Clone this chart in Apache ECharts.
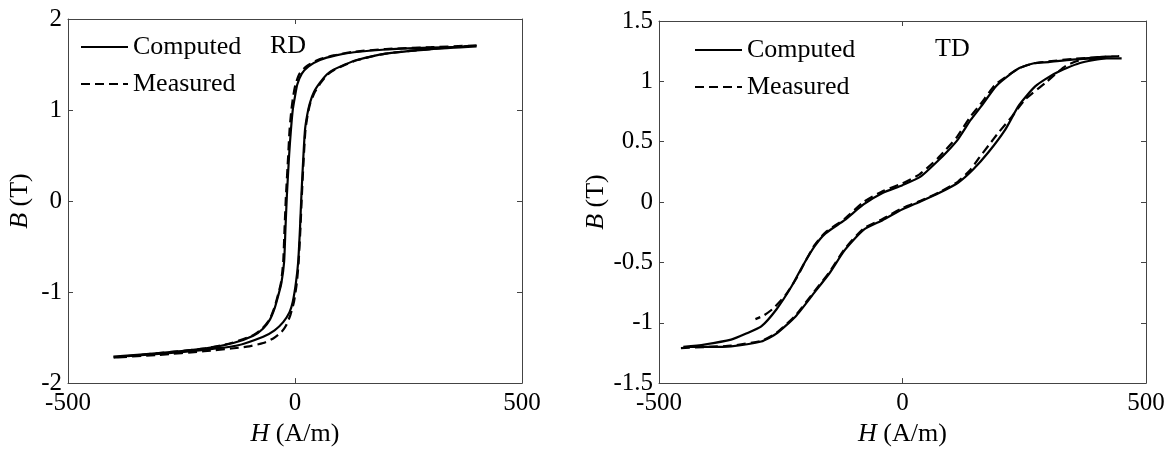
<!DOCTYPE html>
<html>
<head>
<meta charset="utf-8">
<script src="https://cdn.jsdelivr.net/npm/echarts@6/dist/echarts.min.js"></script>
<style>
  html, body { margin: 0; padding: 0; background: #fff; }
  #main { width: 1173px; height: 452px; }
</style>
</head>
<body>
<div id="main"></div>
<script>
// RD loop, H (A/m) and B (T)
var rdComputedH = [400, 300, 200, 130, 90, 55, 30, 15, 5, 0, -5, -9, -13, -18, -21, -24, -30, -37, -45, -55, -70, -92, -136, -200, -300, -400,
  -300, -200, -130, -70, -45, -26, -12, -5, 2, 7, 11, 14, 18, 22, 27, 33, 42, 55, 70, 84, 110, 136, 200, 300, 400];
var rdComputedB = [1.70, 1.685, 1.665, 1.635, 1.60, 1.55, 1.48, 1.40, 1.28, 1.15, 1.0, 0.78, 0.5, 0.05, -0.3, -0.67, -0.9, -1.04, -1.18, -1.3, -1.40, -1.48, -1.56, -1.62, -1.67, -1.71,
  -1.68, -1.635, -1.59, -1.49, -1.42, -1.33, -1.22, -1.11, -0.9, -0.67, -0.3, 0.05, 0.45, 0.78, 0.95, 1.08, 1.2, 1.30, 1.39, 1.44, 1.50, 1.55, 1.62, 1.67, 1.70];
var rdMeasuredH = [400, 300, 200, 130, 85, 50, 25, 10, 1, -4, -8, -12, -15, -20, -23, -26, -31, -38, -46, -56, -72, -95, -140, -200, -300, -400,
  -300, -200, -140, -106, -70, -48, -30, -20, -10, -2, 4, 8, 12, 15, 19, 23, 28, 34, 44, 57, 72, 86, 112, 138, 200, 300, 400];
var rdMeasuredB = [1.71, 1.69, 1.67, 1.64, 1.60, 1.55, 1.48, 1.40, 1.28, 1.15, 1.0, 0.78, 0.5, 0.05, -0.3, -0.67, -0.9, -1.04, -1.18, -1.3, -1.40, -1.48, -1.56, -1.62, -1.67, -1.72,
  -1.69, -1.65, -1.62, -1.60, -1.56, -1.51, -1.44, -1.37, -1.25, -1.10, -0.9, -0.67, -0.3, 0.05, 0.45, 0.78, 0.95, 1.08, 1.2, 1.30, 1.39, 1.44, 1.50, 1.55, 1.62, 1.67, 1.71];

// TD loop
var tdComputedH = [450, 400, 348, 300, 270, 240, 215, 192, 161, 140, 114, 90, 75, 37, 0, -41, -80, -119, -158, -181, -205, -228, -259, -290, -321, -352, -407, -450,
  -400, -352, -290, -259, -220, -181, -150, -119, -80, -41, 0, 37, 75, 114, 145, 176, 211, 239, 273, 315, 363, 419, 450];
var tdComputedB = [1.19, 1.19, 1.18, 1.16, 1.15, 1.11, 1.04, 0.96, 0.79, 0.68, 0.52, 0.41, 0.35, 0.21, 0.14, 0.075, -0.02, -0.15, -0.26, -0.37, -0.53, -0.70, -0.89, -1.03, -1.09, -1.14, -1.18, -1.20,
  -1.20, -1.195, -1.155, -1.09, -0.95, -0.75, -0.59, -0.40, -0.23, -0.15, -0.06, 0.005, 0.075, 0.16, 0.27, 0.41, 0.60, 0.80, 0.96, 1.07, 1.15, 1.19, 1.19];
var tdMeasuredH = [-455, -400, -352, -290, -259, -220, -181, -150, -119, -80, -41, 0, 37, 75, 114, 140, 158, 177, 198, 225, 252, 294, 336, 377, 445,
  400, 348, 300, 270, 240, 215, 190, 160, 138, 112, 88, 72, 35, 0, -41, -80, -119, -158, -181, -198, -219, -240, -265, -285, -302];
var tdMeasuredB = [-1.21, -1.20, -1.19, -1.15, -1.085, -0.94, -0.74, -0.58, -0.39, -0.22, -0.14, -0.05, 0.01, 0.08, 0.17, 0.27, 0.37, 0.47, 0.58, 0.71, 0.85, 0.99, 1.13, 1.19, 1.21,
  1.20, 1.185, 1.165, 1.15, 1.11, 1.045, 0.97, 0.81, 0.70, 0.54, 0.43, 0.36, 0.23, 0.155, 0.09, 0.0, -0.14, -0.25, -0.36, -0.48, -0.64, -0.77, -0.88, -0.94, -0.97];

var legendNames = ['Computed', 'Measured'];

var font = 'Liberation Serif';
function zip(h, b) {
  return h.map(function (v, i) { return [v, b[i]]; });
}

var lineColor = '#444';
function axisBase(gridIndex, min, max, interval) {
  return {
    type: 'value', gridIndex: gridIndex, min: min, max: max, interval: interval,
    axisLine: { show: true, onZero: false, lineStyle: { color: lineColor, width: 1 } },
    axisTick: { show: true, inside: true, length: 5, lineStyle: { color: lineColor } },
    splitLine: { show: false },
    axisLabel: { show: true, fontFamily: font, fontSize: 25, color: '#000' }
  };
}
function xAxis(gridIndex, min, max, interval, top) {
  var a = axisBase(gridIndex, min, max, interval);
  a.position = top ? 'top' : 'bottom';
  if (top) {
    a.axisLabel.show = false;
  } else {
    a.axisLabel.margin = 8;
    a.name = '{i|H} (A/m)';
    a.nameLocation = 'middle';
    a.nameGap = 35;
    a.nameTextStyle = { fontFamily: font, fontSize: 26, color: '#000', rich: { i: { fontFamily: font, fontSize: 26, fontStyle: 'italic' } } };
  }
  return a;
}
function yAxis(gridIndex, min, max, interval, right, gap) {
  var a = axisBase(gridIndex, min, max, interval);
  a.position = right ? 'right' : 'left';
  if (right) {
    a.axisLabel.show = false;
  } else {
    a.axisLabel.margin = 6;
    a.name = '{i|B} (T)';
    a.nameLocation = 'middle';
    a.nameGap = gap;
    a.nameTextStyle = { fontFamily: font, fontSize: 26, color: '#000', rich: { i: { fontFamily: font, fontSize: 26, fontStyle: 'italic' } } };
  }
  return a;
}

function curve(name, data, xi, yi, dashed) {
  return {
    name: name, type: 'line', xAxisIndex: xi, yAxisIndex: yi,
    data: data, symbol: 'none', smooth: 0.2, silent: true, animation: false,
    lineStyle: { color: '#000', width: 2.2, type: dashed ? [9, 5] : 'solid' },
    itemStyle: { color: '#000' }
  };
}

function legend(left, top) {
  return {
    data: legendNames, orient: 'vertical', left: left, top: top,
    itemWidth: 47, itemHeight: 14, itemGap: 11, padding: 0,
    selectedMode: false,
    itemStyle: { opacity: 0 },
    textStyle: { fontFamily: font, fontSize: 26, color: '#000', lineHeight: 26 }
  };
}

var chart = echarts.init(document.getElementById('main'));
chart.setOption({
  backgroundColor: '#fff',
  animation: false,
  title: [
    { text: 'RD', left: 270, top: 33, padding: 0, textStyle: { fontFamily: font, fontSize: 26, fontWeight: 'normal', color: '#000' } },
    { text: 'TD', left: 935, top: 36, padding: 0, textStyle: { fontFamily: font, fontSize: 26, fontWeight: 'normal', color: '#000' } }
  ],
  legend: [legend(80, 34), legend(694, 37)],
  grid: [
    { left: 68, top: 19, width: 454, height: 365 },
    { left: 659, top: 21, width: 487, height: 364 }
  ],
  xAxis: [
    xAxis(0, -500, 500, 500, false),
    xAxis(1, -500, 500, 500, false),
    xAxis(0, -500, 500, 500, true),
    xAxis(1, -500, 500, 500, true)
  ],
  yAxis: [
    yAxis(0, -2, 2, 1, false, 35),
    yAxis(1, -1.5, 1.5, 0.5, false, 48),
    yAxis(0, -2, 2, 1, true),
    yAxis(1, -1.5, 1.5, 0.5, true)
  ],
  series: [
    curve('Computed', zip(rdComputedH, rdComputedB), 0, 0, false),
    curve('Measured', zip(rdMeasuredH, rdMeasuredB), 0, 0, true),
    curve('Computed', zip(tdComputedH, tdComputedB), 1, 1, false),
    curve('Measured', zip(tdMeasuredH, tdMeasuredB), 1, 1, true)
  ]
});
</script>
</body>
</html>
